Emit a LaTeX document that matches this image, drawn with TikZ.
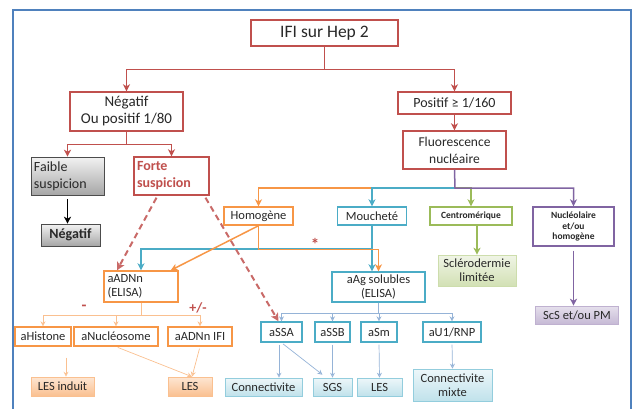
\documentclass[tikz,border=0pt]{standalone}
\usepackage{fontspec}
\setmainfont{Carlito}
\usepackage{tikz}
\usetikzlibrary{arrows.meta, calc}
\definecolor{redc}{RGB}{192,80,77}
\definecolor{orangec}{RGB}{247,150,70}
\definecolor{tealc}{RGB}{75,172,198}
\definecolor{greenc}{RGB}{155,187,89}
\definecolor{purplec}{RGB}{128,100,162}
\definecolor{framec}{RGB}{79,129,189}
\definecolor{lorange}{RGB}{250,192,144}
\definecolor{lblue}{RGB}{149,179,215}
\definecolor{txtc}{RGB}{40,40,40}
\tikzset{
  bx/.style={draw, line width=1.4pt, fill=white, text=txtc, align=center, inner sep=1pt},
  redbox/.style={bx, draw=redc},
  orbox/.style={bx, draw=orangec},
  tlbox/.style={bx, draw=tealc},
  shd/.style={text=txtc, align=center, inner sep=1pt, draw=#1, line width=0.6pt},
  fs/.style 2 args={font=\fontsize{#1}{#2}\selectfont},
  bfs/.style 2 args={font=\bfseries\fontsize{#1}{#2}\selectfont},
  mid/.style={fs={12.5}{14}},
  sml/.style={bfs={9.5}{10.8}},
  arr/.style={line width=1.5pt, draw=#1, -{Stealth[length=7pt,width=7pt,inset=2pt]}},
  ln/.style={line width=1.5pt, draw=#1},
  thin/.style={line width=0.7pt, draw=#1, -{Stealth[length=5pt,width=5pt,open]}, shorten <=2pt},
  dsh/.style={line width=2pt, draw=redc!85, dash pattern=on 6pt off 4pt, -{Stealth[length=8pt,width=8pt,inset=2pt]}}
}
\begin{document}
\begin{tikzpicture}[x=1pt, y=-1pt]
\useasboundingbox (0,0) rectangle (635,408);
\draw[framec, line width=1.5pt] (13,10) rectangle (631,420);
% top of the tree
\node[redbox, fs={17.5}{20}, minimum width=147pt, minimum height=26pt] (ifi) at (324.5,33) {IFI sur Hep 2};
\node[redbox, fs={15}{17}, minimum width=113pt, minimum height=39pt] (neg) at (126.5,111.5) {Négatif\\Ou positif 1/80};
\node[redbox, fs={14}{16}, minimum width=113pt, minimum height=22pt] (pos) at (454.5,103) {Positif ≥ 1/160};
\node[redbox, fs={13.5}{17}, minimum width=103pt, minimum height=38pt] (flu) at (454.5,150) {Fluorescence\\nucléaire};
\draw[arr=redc] (ifi.south) -- ++(0,23) -| (neg.north);
\draw[arr=redc] (ifi.south) -- ++(0,23) -| (pos.north);
\draw[arr=redc] (pos.south) -- (flu.north);
% negative branch
\node[shd=black!70, fs={14}{17}, top color=black!5, bottom color=black!35, minimum width=73pt, minimum height=38pt, align=left, text width=67pt] (faib) at (67.5,176) {Faible\\suspicion};
\node[redbox, bfs={14}{17}, text=redc, minimum width=75pt, minimum height=38pt, align=left, text width=69pt] (fort) at (171.5,176) {Forte\\suspicion};
\node[shd=black!70, bfs={14}{15}, top color=black!5, bottom color=black!35, minimum width=59pt, minimum height=22pt] (neg2) at (70.5,235) {Négatif};
\draw[arr=redc] (neg.south) -- ++(0,13) -| (faib.north);
\draw[arr=redc] (neg.south) -- ++(0,13) -| (fort.north);
\draw[arr=black, shorten <=4pt] (faib.south) -- (faib.south |- neg2.north);
% aspects
\node[orbox, mid, minimum width=69pt, minimum height=18pt] (hom) at (258.5,216) {Homogène};
\node[tlbox, mid, minimum width=69pt, minimum height=18pt] (mou) at (372,216) {Moucheté};
\node[bx, draw=greenc, sml, minimum width=82pt, minimum height=18pt] (cen) at (471,216) {Centromérique};
\node[bx, draw=purplec, sml, minimum width=81pt, minimum height=39pt] (nuc) at (573.5,226.5) {Nucléolaire\\et/ou\\homogène};
\coordinate (fj) at (455,188);
\draw[ln=orangec] (fj -| mou.north) -| (hom.north);
\draw[arr=orangec] (hom.north |- fj) -- (hom.north);
\draw[arr=tealc] (fj) -| (mou.north);
\draw[arr=greenc] (fj) -| (cen.north);
\draw[arr=purplec] (flu.south) -- (fj) -| (nuc.north);
\node[shd=greenc!50, mid, top color=greenc!15, bottom color=greenc!45, minimum width=78pt, minimum height=31pt] (scl) at (477,270.5) {Sclérodermie\\limitée};
\node[shd=purplec!50, mid, top color=purplec!20, bottom color=purplec!45, minimum width=83pt, minimum height=18pt] (scs) at (577,315) {ScS et/ou PM};
\draw[arr=greenc] (scl.north |- cen.south) -- (scl.north);
\draw[arr=purplec, shorten <=4pt] (nuc.south) -- (nuc.south |- scs.north);
% ELISA
\node[orbox, mid, minimum width=74pt, minimum height=31pt, align=left, text width=67pt] (adn) at (141,286.5) {aADNn\\(ELISA)};
\node[tlbox, mid, minimum width=93pt, minimum height=30pt] (aag) at (378.5,287) {aAg solubles\\(ELISA)};
\coordinate (tj) at (372,249);
\draw[arr=tealc] (tj) -| (adn.north);
\draw[arr=tealc] (mou.south) -- (mou.south |- aag.north);
\draw[arr=orangec] (hom.south) -- ([xshift=-8pt]adn.north east);
\draw[arr=orangec] (hom.south) -- ++(0,24) -| (aag.north);
\node[text=redc, bfs={17}{18}] (star) at (315,244) {*};
% antibodies, orange side
\node[orbox, mid, minimum width=56pt, minimum height=19pt] (his) at (43,336.5) {aHistone};
\node[orbox, mid, minimum width=84pt, minimum height=19pt] (nucl) at (116,336.5) {aNucléosome};
\node[orbox, mid, minimum width=64pt, minimum height=19pt] (ifi2) at (200,336.5) {aADNn IFI};
\draw[thin=lorange, shorten <=0pt] (adn.south) -- ++(0,13) -| (his.north);
\draw[thin=lorange, shorten <=0pt] (adn.south) -- ++(0,13) -| (nucl.north);
\draw[thin=lorange, shorten <=0pt] (adn.south) -- ++(0,13) -| (ifi2.north);
\node[text=redc, bfs={16}{16}] (mns) at (84,308) {-};
\node[text=redc, bfs={14}{16}] (pm) at (198,308) {+/-};
\node[shd=lorange, mid, top color=lorange!40, bottom color=lorange, minimum width=63pt, minimum height=19pt] (lesi) at (62.5,386.5) {LES induit};
\node[shd=lorange, mid, top color=lorange!40, bottom color=lorange, minimum width=44pt, minimum height=19pt] (les1) at (190,386.5) {LES};
\draw[thin=lorange, shorten <=11pt] ([xshift=3.5pt]his.south -| lesi.north) -- ([xshift=3.5pt]lesi.north);
\draw[thin=lorange] (nucl.south) -- ([xshift=2pt]les1.north);
\draw[thin=lorange] (ifi2.south) -- ([xshift=2pt]les1.north);
% antibodies, blue side
\node[tlbox, mid, minimum width=41pt, minimum height=20pt] (ssa) at (281.5,332) {aSSA};
\node[tlbox, mid, minimum width=35pt, minimum height=20pt] (ssb) at (332.5,332) {aSSB};
\node[tlbox, mid, minimum width=36pt, minimum height=20pt] (sm) at (379,332) {aSm};
\node[tlbox, mid, minimum width=58pt, minimum height=20pt] (u1) at (452,332) {aU1/RNP};
\draw[thin=lblue, shorten <=0pt] (aag.south) -- ++(0,11) -| (ssa.north);
\draw[thin=lblue, shorten <=0pt] (aag.south) -- ++(0,11) -| (ssb.north);
\draw[thin=lblue, shorten <=0pt] (aag.south) -- ++(0,11) -| (sm.north);
\draw[thin=lblue, shorten <=0pt] (aag.south) -- ++(0,11) -| (u1.north);
\node[shd=tealc!60, mid, top color=tealc!10, bottom color=tealc!35, minimum width=77pt, minimum height=18pt] (con) at (263.5,387) {Connectivite};
\node[shd=tealc!60, mid, top color=tealc!10, bottom color=tealc!35, minimum width=39pt, minimum height=18pt] (sgs) at (332.5,387) {SGS};
\node[shd=tealc!60, mid, top color=tealc!10, bottom color=tealc!35, minimum width=45pt, minimum height=18pt] (les2) at (379.5,387) {LES};
\node[shd=tealc!60, mid, top color=tealc!10, bottom color=tealc!35, minimum width=79pt, minimum height=32pt] (mix) at (452.5,385) {Connectivite\\mixte};
\draw[thin=lblue] ([xshift=-2.5pt]ssa.south) -- ([xshift=15.5pt]con.north);
\draw[thin=lblue] (ssa.south) -- ([xshift=-10pt,yshift=3pt]sgs.north);
\draw[thin=lblue] (ssb.south) -- (sgs.north);
\draw[thin=lblue] (sm.south) -- (les2.north);
\draw[thin=lblue] (u1.south) -- (mix.north);
% strong suspicion, dashed
\draw[dsh] ([xshift=-15pt,yshift=-2pt]fort.south) -- ([xshift=-24pt]adn.north);
\draw[dsh] ([xshift=34pt,yshift=-2pt]fort.south) -- ([xshift=-3pt]ssa.north);
\end{tikzpicture}
\end{document}
